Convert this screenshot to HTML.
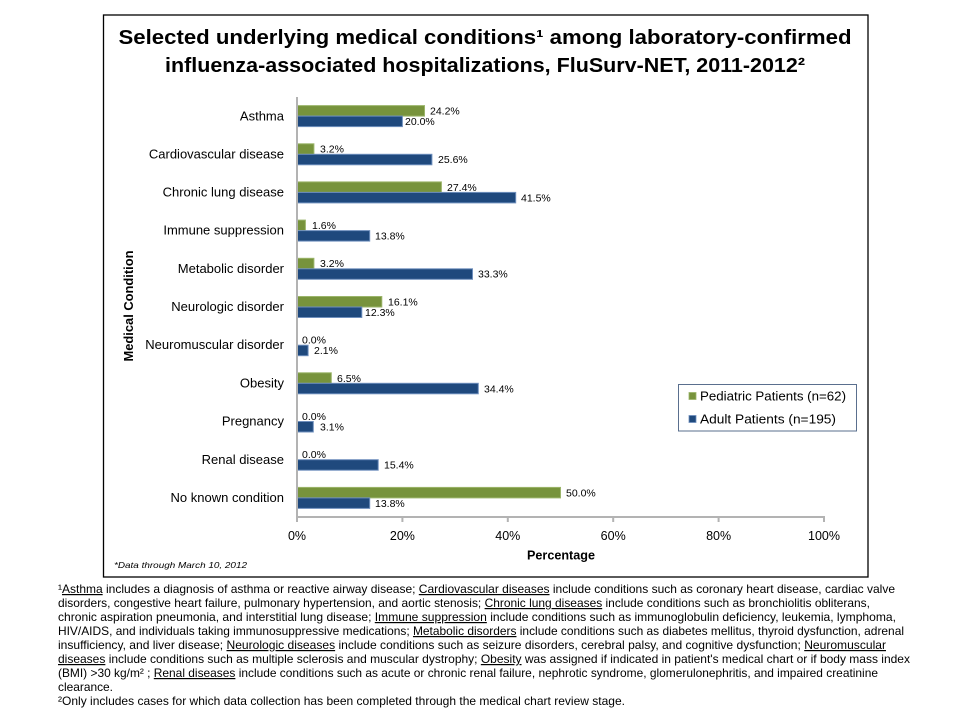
<!DOCTYPE html>
<html>
<head>
<meta charset="utf-8">
<style>
  html,body{margin:0;padding:0;background:#fff;}
  svg{display:block;}
  text{font-family:"Liberation Sans", Arial, sans-serif;}
</style>
</head>
<body>
<svg width="960" height="720" viewBox="0 0 960 720" xmlns="http://www.w3.org/2000/svg">
  <rect x="0" y="0" width="960" height="720" fill="#fff"/>
  <!-- outer chart box -->
  <rect x="103.5" y="15" width="764.5" height="562" fill="#fff" stroke="#000" stroke-width="1.3"/>

  <!-- title -->
  <text x="485" y="44" text-anchor="middle" font-size="20.5" font-weight="bold" fill="#000" textLength="733" lengthAdjust="spacingAndGlyphs">Selected underlying medical conditions¹ among laboratory-confirmed</text>
  <text x="485" y="72" text-anchor="middle" font-size="20.5" font-weight="bold" fill="#000" textLength="640" lengthAdjust="spacingAndGlyphs">influenza-associated hospitalizations, FluSurv-NET, 2011-2012²</text>

  <!-- y axis title -->
  <text transform="translate(133,306) rotate(-90)" text-anchor="middle" font-size="13" font-weight="bold" fill="#000" textLength="111" lengthAdjust="spacingAndGlyphs">Medical Condition</text>

  <!-- category labels -->
  <g font-size="13" fill="#000" text-anchor="end">
    <text x="284" y="120.5">Asthma</text>
    <text x="284" y="158.5">Cardiovascular disease</text>
    <text x="284" y="196.5">Chronic lung disease</text>
    <text x="284" y="234.5">Immune suppression</text>
    <text x="284" y="273">Metabolic disorder</text>
    <text x="284" y="311">Neurologic disorder</text>
    <text x="284" y="349">Neuromuscular disorder</text>
    <text x="284" y="387.5">Obesity</text>
    <text x="284" y="425.5">Pregnancy</text>
    <text x="284" y="464">Renal disease</text>
    <text x="284" y="502">No known condition</text>
  </g>

  <!-- bars: green (pediatric) top, blue (adult) bottom -->
  <g stroke-width="1">
    <!-- Asthma c=116.09 -->
    <rect x="297" y="105.6" width="127.5" height="10.5" fill="#77933C" stroke="#9bb56a"/>
    <rect x="297" y="116.1" width="105.4" height="10.5" fill="#1F497D" stroke="#6f8fbd"/>
    <!-- Cardio c=154.27 -->
    <rect x="297" y="143.8" width="16.9" height="10.5" fill="#77933C" stroke="#9bb56a"/>
    <rect x="297" y="154.3" width="134.9" height="10.5" fill="#1F497D" stroke="#6f8fbd"/>
    <!-- Chronic c=192.45 -->
    <rect x="297" y="181.9" width="144.4" height="10.5" fill="#77933C" stroke="#9bb56a"/>
    <rect x="297" y="192.4" width="218.7" height="10.5" fill="#1F497D" stroke="#6f8fbd"/>
    <!-- Immune c=230.63 -->
    <rect x="297" y="220.1" width="8.4" height="10.5" fill="#77933C" stroke="#9bb56a"/>
    <rect x="297" y="230.6" width="72.7" height="10.5" fill="#1F497D" stroke="#6f8fbd"/>
    <!-- Metabolic c=268.81 -->
    <rect x="297" y="258.3" width="16.9" height="10.5" fill="#77933C" stroke="#9bb56a"/>
    <rect x="297" y="268.8" width="175.5" height="10.5" fill="#1F497D" stroke="#6f8fbd"/>
    <!-- Neurologic c=306.99 -->
    <rect x="297" y="296.5" width="84.8" height="10.5" fill="#77933C" stroke="#9bb56a"/>
    <rect x="297" y="307.0" width="64.8" height="10.5" fill="#1F497D" stroke="#6f8fbd"/>
    <!-- Neuromuscular c=345.17 -->
    <rect x="297" y="345.2" width="11.1" height="10.5" fill="#1F497D" stroke="#6f8fbd"/>
    <!-- Obesity c=383.35 -->
    <rect x="297" y="372.8" width="34.3" height="10.5" fill="#77933C" stroke="#9bb56a"/>
    <rect x="297" y="383.3" width="181.3" height="10.5" fill="#1F497D" stroke="#6f8fbd"/>
    <!-- Pregnancy c=421.53 -->
    <rect x="297" y="421.5" width="16.3" height="10.5" fill="#1F497D" stroke="#6f8fbd"/>
    <!-- Renal c=459.71 -->
    <rect x="297" y="459.7" width="81.2" height="10.5" fill="#1F497D" stroke="#6f8fbd"/>
    <!-- No known c=497.89 -->
    <rect x="297" y="487.4" width="263.5" height="10.5" fill="#77933C" stroke="#9bb56a"/>
    <rect x="297" y="497.9" width="72.7" height="10.5" fill="#1F497D" stroke="#6f8fbd"/>
  </g>

  <!-- value labels -->
  <g font-size="10.5" fill="#000">
    <text x="430" y="114.5">24.2%</text>
    <text x="405" y="125">20.0%</text>
    <text x="320" y="152.7">3.2%</text>
    <text x="438" y="163.2">25.6%</text>
    <text x="447" y="190.9">27.4%</text>
    <text x="521" y="201.4">41.5%</text>
    <text x="312" y="229">1.6%</text>
    <text x="375" y="239.5">13.8%</text>
    <text x="320" y="267.2">3.2%</text>
    <text x="478" y="277.7">33.3%</text>
    <text x="388" y="305.4">16.1%</text>
    <text x="365" y="315.9">12.3%</text>
    <text x="302" y="343.6">0.0%</text>
    <text x="314" y="354.1">2.1%</text>
    <text x="337" y="381.8">6.5%</text>
    <text x="484" y="392.3">34.4%</text>
    <text x="302" y="420">0.0%</text>
    <text x="320" y="430.5">3.1%</text>
    <text x="302" y="458.2">0.0%</text>
    <text x="384" y="468.7">15.4%</text>
    <text x="566" y="496.4">50.0%</text>
    <text x="375" y="506.9">13.8%</text>
  </g>

  <!-- axes -->
  <g stroke="#b3b3b3" stroke-width="2" fill="none">
    <line x1="297" y1="97" x2="297" y2="522"/>
    <line x1="296" y1="517" x2="825" y2="517"/>
    <line x1="402.4" y1="517" x2="402.4" y2="522"/>
    <line x1="507.8" y1="517" x2="507.8" y2="522"/>
    <line x1="613.2" y1="517" x2="613.2" y2="522"/>
    <line x1="718.6" y1="517" x2="718.6" y2="522"/>
    <line x1="824" y1="517" x2="824" y2="522"/>
  </g>

  <!-- x tick labels -->
  <g font-size="12.5" fill="#000" text-anchor="middle">
    <text x="297" y="540">0%</text>
    <text x="402.4" y="540">20%</text>
    <text x="507.8" y="540">40%</text>
    <text x="613.2" y="540">60%</text>
    <text x="718.6" y="540">80%</text>
    <text x="824" y="540">100%</text>
  </g>
  <text x="561" y="559.5" text-anchor="middle" font-size="12.5" font-weight="bold" fill="#000" textLength="68" lengthAdjust="spacingAndGlyphs">Percentage</text>
  <text x="114" y="568" font-size="8.5" font-style="italic" fill="#000" textLength="133" lengthAdjust="spacingAndGlyphs">*Data through March 10, 2012</text>

  <!-- legend -->
  <rect x="678.5" y="384.5" width="178" height="46.5" fill="#fff" stroke="#5a6f8e" stroke-width="1"/>
  <rect x="689" y="392.5" width="7" height="7" fill="#77933C" stroke="#9bb56a" stroke-width="0.8"/>
  <rect x="689" y="415.5" width="7" height="7" fill="#1F497D" stroke="#6f8fbd" stroke-width="0.8"/>
  <text x="700" y="400.5" font-size="13" fill="#000" textLength="146" lengthAdjust="spacingAndGlyphs">Pediatric Patients (n=62)</text>
  <text x="700" y="423.5" font-size="13" fill="#000" textLength="136" lengthAdjust="spacingAndGlyphs">Adult Patients (n=195)</text>

  <!-- footnotes -->
  <g font-size="12" fill="#000">
    <text x="58" y="593" textLength="837" lengthAdjust="spacingAndGlyphs">¹<tspan text-decoration="underline">Asthma</tspan> includes a diagnosis of asthma or reactive airway disease; <tspan text-decoration="underline">Cardiovascular diseases</tspan> include conditions such as coronary heart disease, cardiac valve</text>
    <text x="58" y="607" textLength="812" lengthAdjust="spacingAndGlyphs">disorders, congestive heart failure, pulmonary hypertension, and aortic stenosis; <tspan text-decoration="underline">Chronic lung diseases</tspan> include conditions such as bronchiolitis obliterans,</text>
    <text x="58" y="621" textLength="838" lengthAdjust="spacingAndGlyphs">chronic aspiration pneumonia, and interstitial lung disease; <tspan text-decoration="underline">Immune suppression</tspan> include conditions such as immunoglobulin deficiency, leukemia, lymphoma,</text>
    <text x="58" y="635" textLength="846" lengthAdjust="spacingAndGlyphs">HIV/AIDS,  and individuals taking immunosuppressive medications; <tspan text-decoration="underline">Metabolic disorders</tspan> include conditions such as diabetes mellitus, thyroid dysfunction, adrenal</text>
    <text x="58" y="649" textLength="828" lengthAdjust="spacingAndGlyphs">insufficiency, and liver  disease; <tspan text-decoration="underline">Neurologic diseases</tspan> include conditions such as seizure disorders, cerebral palsy, and cognitive dysfunction; <tspan text-decoration="underline">Neuromuscular</tspan></text>
    <text x="58" y="663" textLength="852" lengthAdjust="spacingAndGlyphs"><tspan text-decoration="underline">diseases</tspan> include conditions such as multiple sclerosis and muscular dystrophy; <tspan text-decoration="underline">Obesity</tspan> was assigned if indicated in patient's medical chart or if body mass index</text>
    <text x="58" y="677" textLength="820" lengthAdjust="spacingAndGlyphs">(BMI)  &gt;30 kg/m² ;  <tspan text-decoration="underline">Renal diseases</tspan> include conditions such as acute or chronic renal failure, nephrotic syndrome, glomerulonephritis, and impaired creatinine</text>
    <text x="58" y="691" textLength="55" lengthAdjust="spacingAndGlyphs">clearance.</text>
    <text x="58" y="705" textLength="567" lengthAdjust="spacingAndGlyphs">²Only includes cases for which data collection has been completed through the medical chart review stage.</text>
  </g>
</svg>
</body>
</html>
